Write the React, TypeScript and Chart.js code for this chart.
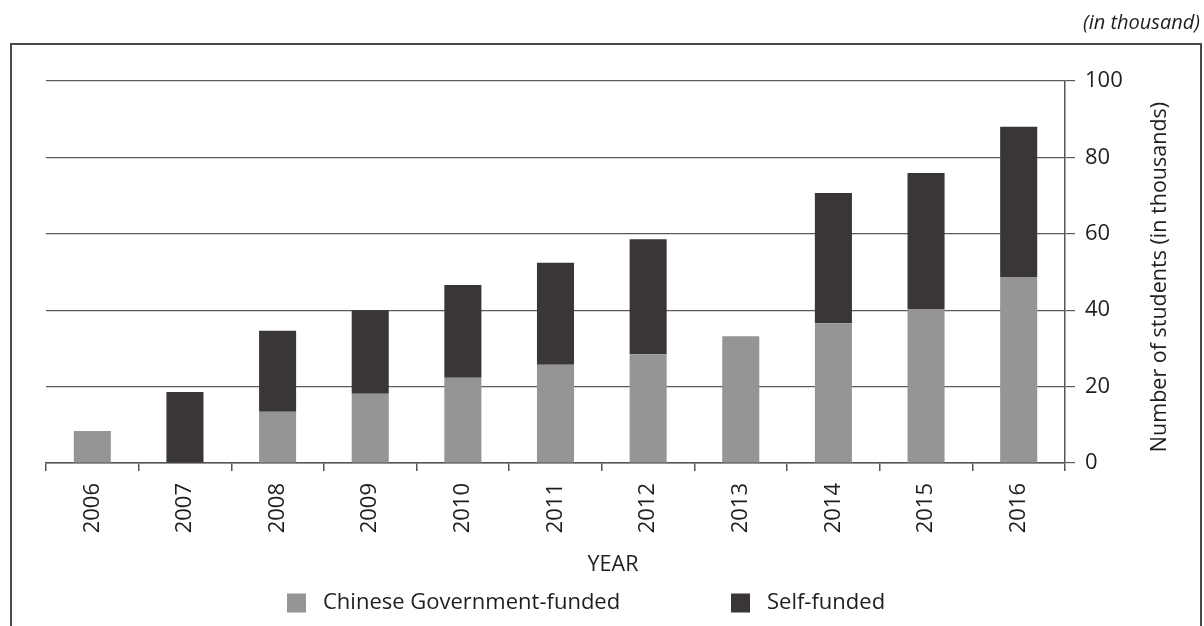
import React, { useEffect, useRef } from "react";
import { Chart, registerables } from "chart.js";

Chart.register(...registerables);

const years = ["2006", "2007", "2008", "2009", "2010", "2011", "2012", "2013", "2014", "2015", "2016"];
const govFunded = [8.4, 0, 13.4, 18.1, 22.3, 25.7, 28.5, 33.2, 36.6, 40.3, 48.7];
const selfFunded = [0, 18.6, 21.2, 21.9, 24.3, 26.7, 30.1, 0, 34.1, 35.6, 39.3];
const yTicks = [0, 20, 40, 60, 80, 100];
const seriesNames = ["Chinese Government-funded", "Self-funded"];
const seriesColors = ["#959595", "#3a3635"];
const xTitle = "YEAR";
const yTitle = "Number of students (in thousands)";
const unitNote = "(in thousand)";

const FONT = "'Open Sans', sans-serif";
const TEXT = "#1e1e1e";

const customText = {
  id: "customText",
  afterDraw(chart: any) {
    const ctx = chart.ctx;
    const area = chart.chartArea;
    ctx.save();
    ctx.fillStyle = TEXT;
    ctx.font = `21.5px ${FONT}`;
    // y title (reads bottom to top)
    ctx.save();
    ctx.translate(area.right + 95, (area.top + area.bottom) / 2 + 5);
    ctx.rotate(-Math.PI / 2);
    ctx.textAlign = "center";
    ctx.textBaseline = "middle";
    ctx.fillText(yTitle, 0, 0);
    ctx.restore();
    // x title
    ctx.textAlign = "center";
    ctx.textBaseline = "middle";
    ctx.fillText(xTitle, area.left + 567, area.bottom + 102);
    // legend
    const legendY = area.bottom + 140;
    const items = [
      { x: area.left + 241, i: 0 },
      { x: area.left + 685, i: 1 },
    ];
    ctx.font = `22px ${FONT}`;
    items.forEach(({ x, i }) => {
      ctx.fillStyle = seriesColors[i];
      ctx.fillRect(x, legendY - 9.5, 19, 19);
      ctx.fillStyle = TEXT;
      ctx.textAlign = "left";
      ctx.fillText(chart.data.datasets[i].label, x + 36, legendY);
    });
    ctx.restore();
  },
};

export default function App() {
  const ref = useRef<HTMLCanvasElement>(null);
  useEffect(() => {
    const chart = new Chart(ref.current!, {
      type: "bar",
      data: {
        labels: years,
        datasets: [
          { label: seriesNames[0], data: govFunded, backgroundColor: seriesColors[0], barPercentage: 0.4, categoryPercentage: 1 },
          { label: seriesNames[1], data: selfFunded, backgroundColor: seriesColors[1], barPercentage: 0.4, categoryPercentage: 1 },
        ],
      },
      options: {
        animation: false,
        responsive: false,
        layout: { padding: { left: 34, right: 75, top: 35, bottom: 0 } },
        plugins: { legend: { display: false }, tooltip: { enabled: false } },
        scales: {
          x: {
            stacked: true,
            offset: true,
            grid: { display: true, drawOnChartArea: false, drawTicks: true, tickLength: 8, offset: true, color: "#555", lineWidth: 1.5 },
            border: { display: true, color: "#555", width: 1.5 },
            ticks: { minRotation: 90, maxRotation: 90, padding: 12, color: TEXT, font: { family: FONT, size: 22 } },
            afterFit: (s: any) => { s.height = 163; },
          },
          y: {
            stacked: true,
            position: "right",
            min: 0,
            max: 100,
            afterBuildTicks: (s: any) => { s.ticks = yTicks.map((v) => ({ value: v })); },
            grid: { color: "#5a5a5a", lineWidth: 1.2, drawTicks: true, tickLength: 10 },
            border: { display: true, color: "#555", width: 1.5 },
            ticks: { padding: 10, color: TEXT, font: { family: FONT, size: 22 } },
            afterFit: (s: any) => { s.width = 60; },
          },
        },
      },
      plugins: [customText],
    });
    return () => chart.destroy();
  }, []);

  return (
    <div>
      <div style={{ position: "fixed", right: 4, top: 8, fontFamily: FONT, fontStyle: "italic", fontSize: 20, color: TEXT }}>
        {unitNote}
      </div>
      <div style={{ position: "fixed", left: 10, top: 43, width: 1192, height: 620, border: "2px solid #4a4a4a", boxSizing: "border-box" }} />
      <canvas ref={ref} width={1188} height={580} style={{ position: "fixed", left: 12, top: 46, width: 1188, height: 580 }} />
    </div>
  );
}
